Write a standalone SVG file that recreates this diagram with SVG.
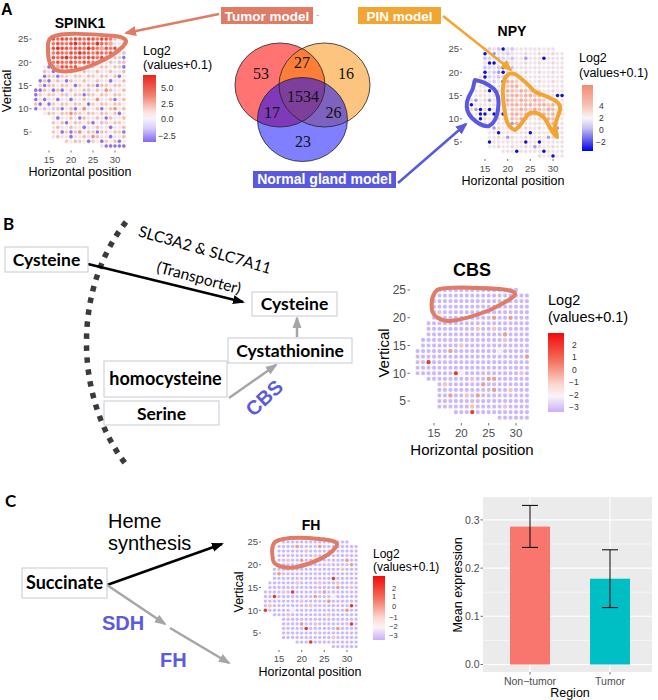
<svg xmlns="http://www.w3.org/2000/svg" width="658" height="700" viewBox="0 0 658 700">
<style>
.t{font-family:"Liberation Sans",Arial,sans-serif;fill:#000}
.tk{font-family:"Liberation Sans",Arial,sans-serif;fill:#4d4d4d}
.lt{font-family:"Liberation Sans",Arial,sans-serif;fill:#333}
.cal{font-family:Lato,"Open Sans",sans-serif;fill:#000}
.box{fill:#fff;stroke:#c5cad3;stroke-width:1}
.tm{stroke:#4d4d4d;stroke-width:0.8}
.ol{fill:none;stroke-width:4;stroke-linejoin:round;stroke-linecap:round}
.venn{font-family:"Liberation Serif","Times New Roman",serif;font-size:16px;text-anchor:middle;fill:#111}
.lbl{font-family:"Liberation Sans",Arial,sans-serif;font-weight:bold;fill:#fff;text-anchor:middle}
.pu{fill:#8c70f4}.pl{fill:#d3c6f8}.dr{fill:#d8352a}.lp{fill:#f2ab9c}.md{fill:#ec8e7c}
.db{fill:#0f0fd0}.mb{fill:#a29cef}
.pe{fill:#f6c6b4}.or{fill:#f09e80}.rd{fill:#e53a27}.wh{fill:#f6f1f8}
</style>
<defs>
<path id="tissue" d="M15.5,25.5H30.5V24.5H32.5V1.5H26.5V2.5H18.5V3.5H15.5V8.5H13.5V9.5H11.5V14.5H12.5V16.5H13.5V19.5H14.5V24.5H15.5Z"/>
<pattern id="pSp" patternUnits="userSpaceOnUse" x="0.5" y="0.5" width="3" height="2">
<circle cx="0.5" cy="0.5" r="0.39" fill="#f3c6ba"/><circle cx="1.5" cy="0.5" r="0.39" fill="#f8e6e2"/><circle cx="2.5" cy="0.5" r="0.39" fill="#eebcae"/>
<circle cx="0.5" cy="1.5" r="0.39" fill="#f6e2de"/><circle cx="1.5" cy="1.5" r="0.39" fill="#f0b8aa"/><circle cx="2.5" cy="1.5" r="0.39" fill="#e7def8"/>
</pattern>
<pattern id="pSpR" patternUnits="userSpaceOnUse" x="0.5" y="0.5" width="3" height="2">
<circle cx="0.5" cy="0.5" r="0.39" fill="#e9503f"/><circle cx="1.5" cy="0.5" r="0.39" fill="#ee6a58"/><circle cx="2.5" cy="0.5" r="0.39" fill="#e5463a"/>
<circle cx="0.5" cy="1.5" r="0.39" fill="#ef7563"/><circle cx="1.5" cy="1.5" r="0.39" fill="#e84d3e"/><circle cx="2.5" cy="1.5" r="0.39" fill="#ec6050"/>
</pattern>
<pattern id="pNp" patternUnits="userSpaceOnUse" x="0.5" y="0.5" width="3" height="2">
<circle cx="0.5" cy="0.5" r="0.38" fill="#efe2f0"/><circle cx="1.5" cy="0.5" r="0.38" fill="#f6dcd6"/><circle cx="2.5" cy="0.5" r="0.38" fill="#e6def6"/>
<circle cx="0.5" cy="1.5" r="0.38" fill="#f5e4e2"/><circle cx="1.5" cy="1.5" r="0.38" fill="#e9e3f5"/><circle cx="2.5" cy="1.5" r="0.38" fill="#f2d2ca"/>
</pattern>
<pattern id="pNpS" patternUnits="userSpaceOnUse" x="0.5" y="0.5" width="3" height="2">
<circle cx="0.5" cy="0.5" r="0.38" fill="#f3a898"/><circle cx="1.5" cy="0.5" r="0.38" fill="#f6c0b3"/><circle cx="2.5" cy="0.5" r="0.38" fill="#f0ae9f"/>
<circle cx="0.5" cy="1.5" r="0.38" fill="#f8cabd"/><circle cx="1.5" cy="1.5" r="0.38" fill="#f2a493"/><circle cx="2.5" cy="1.5" r="0.38" fill="#f5b8aa"/>
</pattern>
<pattern id="pNpL" patternUnits="userSpaceOnUse" x="0.5" y="0.5" width="3" height="2">
<circle cx="0.5" cy="0.5" r="0.38" fill="#d8d0f5"/><circle cx="1.5" cy="0.5" r="0.38" fill="#e6dff7"/><circle cx="2.5" cy="0.5" r="0.38" fill="#cbc2f2"/>
<circle cx="0.5" cy="1.5" r="0.38" fill="#e2dbf6"/><circle cx="1.5" cy="1.5" r="0.38" fill="#d2c9f4"/><circle cx="2.5" cy="1.5" r="0.38" fill="#ebe5f7"/>
</pattern>
<pattern id="pLav" patternUnits="userSpaceOnUse" x="0.5" y="0.5" width="1" height="1">
<circle cx="0.5" cy="0.5" r="0.37" fill="#c9b7f6"/>
</pattern>
<linearGradient id="gSp" x1="0" y1="0" x2="0" y2="1">
<stop offset="0" stop-color="#e8261f"/><stop offset="0.3" stop-color="#f07e6c"/><stop offset="0.55" stop-color="#fbe2dc"/><stop offset="0.65" stop-color="#f7f2fa"/><stop offset="0.8" stop-color="#d6cbfa"/><stop offset="1" stop-color="#8465f3"/>
</linearGradient>
<linearGradient id="gNp" x1="0" y1="0" x2="0" y2="1">
<stop offset="0" stop-color="#f48a72"/><stop offset="0.3" stop-color="#f7c0b2"/><stop offset="0.5" stop-color="#fbf4f8"/><stop offset="0.65" stop-color="#c7c3f2"/><stop offset="0.85" stop-color="#5a56ea"/><stop offset="1" stop-color="#0000f0"/>
</linearGradient>
<linearGradient id="gCb" x1="0" y1="0" x2="0" y2="1">
<stop offset="0" stop-color="#f20a0a"/><stop offset="0.35" stop-color="#f4705e"/><stop offset="0.65" stop-color="#fbd7ce"/><stop offset="0.8" stop-color="#fbf3f6"/><stop offset="1" stop-color="#c6b0fa"/>
</linearGradient>
<marker id="mSal" markerUnits="userSpaceOnUse" markerWidth="12" markerHeight="12" refX="10" refY="6" orient="auto"><path d="M0,1 L12,6 L0,11 Z" fill="#e07b66"/></marker>
<marker id="mOr" markerUnits="userSpaceOnUse" markerWidth="12" markerHeight="12" refX="10" refY="6" orient="auto"><path d="M0,1 L12,6 L0,11 Z" fill="#f2a531"/></marker>
<marker id="mBl" markerUnits="userSpaceOnUse" markerWidth="12" markerHeight="12" refX="10" refY="6" orient="auto"><path d="M0,1 L12,6 L0,11 Z" fill="#5858e0"/></marker>
<marker id="mBk" markerUnits="userSpaceOnUse" markerWidth="12" markerHeight="10" refX="10" refY="5" orient="auto"><path d="M0,0.5 L12,5 L0,9.5 Z" fill="#000"/></marker>
<marker id="mGr" markerUnits="userSpaceOnUse" markerWidth="12" markerHeight="10" refX="10" refY="5" orient="auto"><path d="M0,0.5 L12,5 L0,9.5 Z" fill="#a6a6a6"/></marker>
</defs>
<rect width="658" height="700" fill="#fff"/>

<!-- Panel labels -->
<text class="t" x="1" y="15" font-size="16" font-weight="bold">A</text>
<text class="cal" x="3" y="230" font-size="17" font-weight="bold">B</text>
<text class="cal" x="5" y="507" font-size="17" font-weight="bold">C</text>

<!-- ===== SPINK1 plot ===== -->
<g id="spink1">
<text class="t" x="80" y="28" font-size="14" font-weight="bold" text-anchor="middle">SPINK1</text>
<g transform="translate(-17,155.25) scale(4.4,-4.65)">
<use href="#tissue" fill="url(#pSp)"/>
<path d="M15.5,25.5H29.5V23.5H30.5V21.5H28.5V20.5H25.5V19.5H21.5V18.5H15.5Z" fill="url(#pSpR)"/>
<g>
<circle class="dr" cx="24" cy="23" r="0.39"/><circle class="dr" cx="22" cy="22" r="0.39"/><circle class="dr" cx="19" cy="21" r="0.39"/><circle class="dr" cx="26" cy="24" r="0.39"/><circle class="dr" cx="21" cy="24" r="0.39"/><circle class="dr" cx="17" cy="23" r="0.39"/>
<circle class="lp" cx="28" cy="21" r="0.39"/><circle class="lp" cx="29" cy="24" r="0.39"/><circle class="lp" cx="17" cy="19" r="0.39"/><circle class="lp" cx="27" cy="23" r="0.39"/>
<circle class="md" cx="20" cy="9" r="0.39"/><circle class="md" cx="23" cy="10" r="0.39"/><circle class="md" cx="26" cy="12" r="0.39"/><circle class="md" cx="28" cy="14" r="0.39"/><circle class="md" cx="30" cy="10" r="0.39"/><circle class="md" cx="22" cy="5" r="0.39"/><circle class="md" cx="25" cy="4" r="0.39"/>
<circle class="pl" cx="31" cy="23" r="0.39"/><circle class="pl" cx="32" cy="22" r="0.39"/><circle class="pl" cx="31" cy="20" r="0.39"/><circle class="pl" cx="19" cy="13" r="0.39"/><circle class="pl" cx="24" cy="14" r="0.39"/><circle class="pl" cx="16" cy="10" r="0.39"/><circle class="pl" cx="27" cy="7" r="0.39"/>
<circle class="pu" cx="15" cy="19" r="0.39"/><circle class="pu" cx="16" cy="18" r="0.39"/><circle class="pu" cx="14" cy="17" r="0.39"/><circle class="pu" cx="17" cy="17" r="0.39"/><circle class="pu" cx="13" cy="16" r="0.39"/><circle class="pu" cx="15" cy="16" r="0.39"/><circle class="pu" cx="12" cy="14" r="0.39"/><circle class="pu" cx="14" cy="15" r="0.39"/><circle class="pu" cx="19" cy="16" r="0.39"/><circle class="pu" cx="21" cy="15" r="0.39"/><circle class="pu" cx="13" cy="14" r="0.39"/><circle class="pu" cx="12" cy="13" r="0.39"/><circle class="pu" cx="16" cy="14" r="0.39"/><circle class="pu" cx="18" cy="14" r="0.39"/><circle class="pu" cx="12" cy="12" r="0.39"/><circle class="pu" cx="14" cy="12" r="0.39"/><circle class="pu" cx="13" cy="11" r="0.39"/><circle class="pu" cx="15" cy="11" r="0.39"/><circle class="pu" cx="12" cy="10" r="0.39"/><circle class="pu" cx="17" cy="12" r="0.39"/><circle class="pu" cx="20" cy="12" r="0.39"/><circle class="pu" cx="23" cy="13" r="0.39"/><circle class="pu" cx="26" cy="15" r="0.39"/><circle class="pu" cx="29" cy="16" r="0.39"/><circle class="pu" cx="32" cy="21" r="0.39"/><circle class="pu" cx="32" cy="19" r="0.39"/><circle class="pu" cx="31" cy="17" r="0.39"/><circle class="pu" cx="18" cy="10" r="0.39"/><circle class="pu" cx="21" cy="10" r="0.39"/><circle class="pu" cx="24" cy="11" r="0.39"/><circle class="pu" cx="27" cy="10" r="0.39"/><circle class="pu" cx="30" cy="12" r="0.39"/><circle class="pu" cx="17" cy="8" r="0.39"/><circle class="pu" cx="19" cy="7" r="0.39"/><circle class="pu" cx="22" cy="8" r="0.39"/><circle class="pu" cx="25" cy="7" r="0.39"/><circle class="pu" cx="28" cy="8" r="0.39"/><circle class="pu" cx="31" cy="9" r="0.39"/><circle class="pu" cx="18" cy="5" r="0.39"/><circle class="pu" cx="20" cy="5" r="0.39"/><circle class="pu" cx="23" cy="6" r="0.39"/><circle class="pu" cx="26" cy="5" r="0.39"/><circle class="pu" cx="29" cy="6" r="0.39"/><circle class="pu" cx="32" cy="5" r="0.39"/><circle class="pu" cx="20" cy="4" r="0.39"/><circle class="pu" cx="24" cy="3" r="0.39"/><circle class="pu" cx="27" cy="3" r="0.39"/><circle class="pu" cx="28" cy="2" r="0.39"/><circle class="pu" cx="29" cy="2" r="0.39"/><circle class="pu" cx="30" cy="2" r="0.39"/><circle class="pu" cx="31" cy="2" r="0.39"/><circle class="pu" cx="32" cy="2" r="0.39"/><circle class="pu" cx="29" cy="4" r="0.39"/><circle class="pu" cx="31" cy="3" r="0.39"/>
</g>
</g>
<path class="ol" stroke="#e07b66" stroke-width="4.5" d="M52,37 C62,32 90,34 115,36 C124,37 128,40 125,44 C119,52 105,60 90,66 C78,71 64,73 56,70 C50,67 48,60 48,52 C48,45 47,40 52,37 Z"/>
<g class="tk" font-size="9.5" text-anchor="end">
<text x="28.5" y="42.3">25</text><text x="28.5" y="65.6">20</text><text x="28.5" y="88.9">15</text><text x="28.5" y="112.1">10</text><text x="28.5" y="135.4">5</text>
</g>
<g class="tm"><line x1="29.5" y1="39" x2="31.5" y2="39"/><line x1="29.5" y1="62.25" x2="31.5" y2="62.25"/><line x1="29.5" y1="85.5" x2="31.5" y2="85.5"/><line x1="29.5" y1="108.75" x2="31.5" y2="108.75"/><line x1="29.5" y1="132" x2="31.5" y2="132"/>
<line x1="49" y1="150.5" x2="49" y2="152.5"/><line x1="71" y1="150.5" x2="71" y2="152.5"/><line x1="93" y1="150.5" x2="93" y2="152.5"/><line x1="115" y1="150.5" x2="115" y2="152.5"/></g>
<g class="tk" font-size="9.5" text-anchor="middle">
<text x="49" y="163">15</text><text x="71" y="163">20</text><text x="93" y="163">25</text><text x="115" y="163">30</text>
</g>
<text class="t" x="80" y="176" font-size="12.5" text-anchor="middle">Horizontal position</text>
<text class="t" transform="translate(11,91) rotate(-90)" font-size="13" text-anchor="middle">Vertical</text>
<text class="t" x="143" y="55" font-size="12.5">Log2</text>
<text class="t" x="143" y="69" font-size="12.5">(values+0.1)</text>
<rect x="143" y="75" width="13" height="67" fill="url(#gSp)"/>
<g class="lt" font-size="9">
<text x="161" y="91">5.0</text><text x="161" y="106.5">2.5</text><text x="161" y="122">0.0</text><text x="158" y="138.5">−2.5</text>
</g>
</g>

<!-- ===== Venn ===== -->
<g id="venn">
<ellipse cx="280" cy="85" rx="45" ry="42" fill="#f00" fill-opacity="0.55"/>
<ellipse cx="324.5" cy="85" rx="45.5" ry="42" fill="#f98a00" fill-opacity="0.5"/>
<ellipse cx="302.5" cy="119.5" rx="45" ry="42" fill="#0000ff" fill-opacity="0.5"/>
<g fill="none" stroke="#222" stroke-width="0.8">
<ellipse cx="280" cy="85" rx="45" ry="42"/>
<ellipse cx="324.5" cy="85" rx="45.5" ry="42"/>
<ellipse cx="302.5" cy="119.5" rx="45" ry="42"/>
</g>
<text class="venn" x="261" y="79">53</text>
<text class="venn" x="302" y="68">27</text>
<text class="venn" x="346" y="79">16</text>
<text class="venn" x="303" y="102">1534</text>
<text class="venn" x="272" y="118">17</text>
<text class="venn" x="333.5" y="118">26</text>
<text class="venn" x="303" y="147">23</text>
</g>

<g id="tumor-label">
<rect x="221" y="7" width="92" height="17" fill="#e07b66"/>
<text class="lbl" x="267" y="20.5" font-size="13.5">Tumor model</text>
</g>
<g id="pin-label">
<rect x="358" y="7" width="83" height="17" fill="#f2a531"/>
<text class="lbl" x="399.5" y="20.5" font-size="13.5">PIN model</text>
</g>
<g id="normal-label">
<rect x="253" y="171" width="143" height="17" fill="#5858e0"/>
<text class="lbl" x="324.5" y="184" font-size="14">Normal gland model</text>
</g>

<!-- ===== NPY plot ===== -->
<g id="npy">
<text class="t" x="512" y="36" font-size="14" font-weight="bold" text-anchor="middle">NPY</text>
<g transform="translate(417,165.25) scale(4.533,-4.65)">
<use href="#tissue" fill="url(#pNp)"/>
<path d="M14.5,25.5H21.5V19.5H19.5V17.5H14.5Z" fill="url(#pNpL)"/>
<path d="M19.5,18.5H22.5V16.5H25.5V15.5H28.5V13.5H30.5V7.5H29.5V9.5H28.5V10.5H24.5V9.5H22.5V8.5H20.5V12.5H19.5Z" fill="url(#pNpS)"/>
<g>
<circle class="mb" cx="13" cy="14" r="0.38"/><circle class="mb" cx="14" cy="9" r="0.38"/><circle class="mb" cx="17" cy="8" r="0.38"/><circle class="mb" cx="20" cy="6" r="0.38"/><circle class="mb" cx="21" cy="9" r="0.38"/><circle class="mb" cx="26" cy="4" r="0.38"/><circle class="mb" cx="29" cy="6" r="0.38"/><circle class="mb" cx="31" cy="8" r="0.38"/><circle class="mb" cx="17" cy="24" r="0.38"/><circle class="mb" cx="18" cy="20" r="0.38"/><circle class="mb" cx="16" cy="14" r="0.38"/><circle class="mb" cx="13" cy="12" r="0.38"/><circle class="mb" cx="24" cy="23" r="0.38"/>
<circle class="db" cx="15" cy="24" r="0.38"/><circle class="db" cx="19" cy="25" r="0.38"/><circle class="db" cx="16" cy="22" r="0.38"/><circle class="db" cx="17" cy="22" r="0.38"/><circle class="db" cx="19" cy="21" r="0.38"/><circle class="db" cx="15" cy="20" r="0.38"/><circle class="db" cx="19" cy="20" r="0.38"/><circle class="db" cx="15" cy="19" r="0.38"/><circle class="db" cx="12" cy="13" r="0.38"/><circle class="db" cx="14" cy="12" r="0.38"/><circle class="db" cx="15" cy="11" r="0.38"/><circle class="db" cx="14" cy="11" r="0.38"/><circle class="db" cx="14" cy="10" r="0.38"/><circle class="db" cx="17" cy="11" r="0.38"/><circle class="db" cx="16" cy="12" r="0.38"/><circle class="db" cx="19" cy="11" r="0.38"/><circle class="db" cx="16" cy="5" r="0.38"/><circle class="db" cx="18" cy="7" r="0.38"/><circle class="db" cx="22" cy="3" r="0.38"/><circle class="db" cx="24" cy="5" r="0.38"/><circle class="db" cx="25" cy="7" r="0.38"/><circle class="db" cx="28" cy="23" r="0.38"/><circle class="db" cx="31" cy="15" r="0.38"/><circle class="db" cx="32" cy="15" r="0.38"/><circle class="db" cx="27" cy="5" r="0.38"/><circle class="db" cx="30" cy="2" r="0.38"/><circle class="db" cx="28" cy="3" r="0.38"/><circle class="db" cx="16" cy="16" r="0.38"/><circle class="db" cx="19" cy="18" r="0.38"/>
</g>
</g>
<path class="ol" stroke="#f2a531" d="M505,78 C508,73 513,72 518,76 C523,80 528,84 533,90 C537,94 543,94 550,98 C557,101 561,104 560,110 C558,117 555,122 555,128 C556,132 557,134 557,137 C553,134 550,128 547,122 C544,116 537,111 530,113 C525,116 522,126 515,130 C509,128 506,122 505,113 C504,105 502,97 503,88 C503,84 504,81 505,78 Z"/>
<path class="ol" stroke="#5858e0" d="M475,80 C482,81 488,84 494,89 C499,94 499,103 498,110 C497,117 495,123 489,126 C483,127 477,123 472,118 C468,114 466,108 467,102 C468,96 472,92 473,88 C474,85 474,82 475,80 Z"/>
<g class="tk" font-size="9.5" text-anchor="end">
<text x="459" y="52.3">25</text><text x="459" y="75.5">20</text><text x="459" y="98.8">15</text><text x="459" y="122">10</text><text x="459" y="145.3">5</text>
</g>
<g class="tm"><line x1="460" y1="49" x2="462" y2="49"/><line x1="460" y1="72.25" x2="462" y2="72.25"/><line x1="460" y1="95.5" x2="462" y2="95.5"/><line x1="460" y1="118.75" x2="462" y2="118.75"/><line x1="460" y1="142" x2="462" y2="142"/>
<line x1="485" y1="159" x2="485" y2="161"/><line x1="507.7" y1="159" x2="507.7" y2="161"/><line x1="530.3" y1="159" x2="530.3" y2="161"/><line x1="553" y1="159" x2="553" y2="161"/></g>
<g class="tk" font-size="9.5" text-anchor="middle">
<text x="485" y="172">15</text><text x="507.7" y="172">20</text><text x="530.3" y="172">25</text><text x="553" y="172">30</text>
</g>
<text class="t" x="513" y="185" font-size="12.5" text-anchor="middle">Horizontal position</text>
<text class="t" x="579" y="62" font-size="12.5">Log2</text>
<text class="t" x="579" y="77" font-size="12.5">(values+0.1)</text>
<rect x="582" y="85" width="11" height="66" fill="url(#gNp)"/>
<g class="lt" font-size="8.5">
<text x="599" y="109">4</text><text x="599" y="121">2</text><text x="599" y="133">0</text><text x="596" y="145">−2</text>
</g>
</g>

<!-- ===== Panel A connectors ===== -->
<g id="connectors-a" fill="none" stroke-width="2.5">
<line x1="219" y1="14" x2="126" y2="33" stroke="#e07b66" marker-end="url(#mSal)"/>
<line x1="443" y1="16" x2="511" y2="70" stroke="#f2a531" marker-end="url(#mOr)"/>
<line x1="398" y1="183" x2="466" y2="124" stroke="#5858e0" marker-end="url(#mBl)"/>
<line x1="316.5" y1="15.5" x2="319" y2="15.5" stroke="#aaa" stroke-width="0.8"/>
</g>

<!-- ===== Panel B ===== -->
<path id="membrane" d="M126,222 C72,290 74,400 128,467" fill="none" stroke="#3a3a3a" stroke-width="5.5" stroke-dasharray="5.5 6.5"/>
<g id="connectors-b" fill="none" stroke-width="2.5">
<line x1="88" y1="264" x2="243" y2="302" stroke="#000" marker-end="url(#mBk)"/>
<line x1="297" y1="337" x2="297" y2="318" stroke="#a6a6a6" marker-end="url(#mGr)"/>
<line x1="229" y1="398" x2="276" y2="365" stroke="#a6a6a6" marker-end="url(#mGr)"/>
</g>
<g id="cys-out"><rect class="box" x="5" y="247" width="83" height="25"/><text class="cal" x="46.5" y="266" font-size="17.5" font-weight="bold" text-anchor="middle">Cysteine</text></g>
<g id="cys-in"><rect class="box" x="252" y="292" width="85" height="24"/><text class="cal" x="294.5" y="310" font-size="17.5" font-weight="bold" text-anchor="middle">Cysteine</text></g>
<g id="cystathionine"><rect class="box" x="228" y="338" width="124" height="25"/><text class="cal" x="290" y="357" font-size="17.5" font-weight="bold" text-anchor="middle">Cystathionine</text></g>
<g id="homocysteine"><rect class="box" x="104" y="361" width="123" height="36"/><text class="cal" x="165.5" y="385" font-size="18" font-weight="bold" text-anchor="middle">homocysteine</text></g>
<g id="serine"><rect class="box" x="104" y="401" width="115" height="24"/><text class="cal" x="161.5" y="420" font-size="17.5" font-weight="bold" text-anchor="middle">Serine</text></g>
<text class="cal" transform="translate(203.5,255) rotate(16)" font-size="15.5" text-anchor="middle">SLC3A2 &amp; SLC7A11</text>
<text class="cal" transform="translate(197.5,283) rotate(15)" font-size="15.5" text-anchor="middle">(Transporter)</text>
<text class="t" transform="translate(269,403) rotate(-43)" font-size="20" font-weight="bold" style="fill:#5b5bdb" text-anchor="middle">CBS</text>

<!-- ===== CBS plot ===== -->
<g id="cbs">
<text class="t" x="472" y="276" font-size="18" font-weight="bold" text-anchor="middle">CBS</text>
<g transform="translate(352,428.75) scale(5.467,-5.55)">
<use href="#tissue" fill="url(#pLav)"/>
<g>
<circle class="pe" cx="16" cy="21" r="0.37"/><circle class="pe" cx="23" cy="18" r="0.37"/><circle class="pe" cx="26" cy="18" r="0.37"/><circle class="pe" cx="20" cy="15" r="0.37"/><circle class="pe" cx="22" cy="9" r="0.37"/><circle class="pe" cx="21" cy="6" r="0.37"/><circle class="pe" cx="28" cy="4" r="0.37"/><circle class="pe" cx="22" cy="4" r="0.37"/><circle class="pe" cx="17" cy="8" r="0.37"/><circle class="pe" cx="31" cy="10" r="0.37"/><circle class="pe" cx="29" cy="7" r="0.37"/><circle class="pe" cx="28" cy="16" r="0.37"/>
<circle class="or" cx="26" cy="20" r="0.37"/><circle class="or" cx="29" cy="20" r="0.37"/><circle class="or" cx="28" cy="17" r="0.37"/><circle class="or" cx="18" cy="14" r="0.37"/><circle class="or" cx="26" cy="9" r="0.37"/><circle class="or" cx="25" cy="9" r="0.37"/><circle class="or" cx="24" cy="8" r="0.37"/><circle class="or" cx="26" cy="7" r="0.37"/><circle class="or" cx="18" cy="6" r="0.37"/><circle class="or" cx="23" cy="6" r="0.37"/><circle class="or" cx="32" cy="13" r="0.37"/>
<circle class="rd" cx="14" cy="12" r="0.37"/><circle class="rd" cx="19" cy="10" r="0.37"/><circle class="rd" cx="22" cy="3" r="0.37"/>
<circle class="wh" cx="27" cy="14" r="0.37"/><circle class="wh" cx="20" cy="10" r="0.37"/>
</g>
</g>
<path class="ol" stroke="#e07b66" d="M437,290 C445,286 470,287 500,289 C510,290 518,292 514,296 C510,300 500,305 490,310 C475,316 460,320 450,321 C440,321 433,316 432,310 C431,303 432,295 437,290 Z"/>
<g class="tk" font-size="12" text-anchor="end">
<text x="406" y="294.2">25</text><text x="406" y="322">20</text><text x="406" y="349.7">15</text><text x="406" y="377.5">10</text><text x="406" y="405.2">5</text>
</g>
<g class="tm"><line x1="407.5" y1="290" x2="410" y2="290"/><line x1="407.5" y1="317.75" x2="410" y2="317.75"/><line x1="407.5" y1="345.5" x2="410" y2="345.5"/><line x1="407.5" y1="373.25" x2="410" y2="373.25"/><line x1="407.5" y1="401" x2="410" y2="401"/>
<line x1="434" y1="423" x2="434" y2="425.5"/><line x1="461.3" y1="423" x2="461.3" y2="425.5"/><line x1="488.7" y1="423" x2="488.7" y2="425.5"/><line x1="516" y1="423" x2="516" y2="425.5"/></g>
<g class="tk" font-size="11.5" text-anchor="middle">
<text x="434" y="436.5">15</text><text x="461.3" y="436.5">20</text><text x="488.7" y="436.5">25</text><text x="516" y="436.5">30</text>
</g>
<text class="t" x="472" y="455" font-size="15" text-anchor="middle">Horizontal position</text>
<text class="t" transform="translate(389,353) rotate(-90)" font-size="15" text-anchor="middle">Vertical</text>
<text class="t" x="548" y="304.5" font-size="14.5">Log2</text>
<text class="t" x="548" y="322" font-size="14.5">(values+0.1)</text>
<rect x="548" y="333" width="16" height="79" fill="url(#gCb)"/>
<g class="lt" font-size="8.5">
<text x="572" y="348">2</text><text x="572" y="360">1</text><text x="572" y="373">0</text><text x="569" y="385">−1</text><text x="569" y="398">−2</text><text x="569" y="410">−3</text>
</g>
</g>

<!-- ===== Panel C ===== -->
<g id="connectors-c" fill="none" stroke-width="2.5">
<line x1="107" y1="585" x2="222" y2="544" stroke="#000" marker-end="url(#mBk)"/>
<line x1="107" y1="585" x2="165" y2="624" stroke="#a6a6a6" marker-end="url(#mGr)"/>
<line x1="170" y1="628" x2="229" y2="663" stroke="#a6a6a6" marker-end="url(#mGr)"/>
</g>
<g id="succinate"><rect class="box" x="22" y="568" width="85" height="30"/><text class="cal" x="64.5" y="589" font-size="18" font-weight="bold" text-anchor="middle">Succinate</text></g>
<text class="t" x="108" y="528" font-size="20">Heme</text>
<text class="t" x="108" y="550" font-size="20">synthesis</text>
<text class="t" x="102" y="630" font-size="20" font-weight="bold" style="fill:#5b5bdb">SDH</text>
<text class="t" x="160" y="667" font-size="20" font-weight="bold" style="fill:#5b5bdb">FH</text>

<!-- ===== FH plot ===== -->
<g id="fh">
<text class="t" x="311" y="530" font-size="14" font-weight="bold" text-anchor="middle">FH</text>
<g transform="translate(211,655.75) scale(4.533,-4.55)">
<use href="#tissue" fill="url(#pLav)"/>
<g>
<circle class="rd" cx="14" cy="13" r="0.38"/><circle class="rd" cx="12" cy="10" r="0.38"/><circle class="rd" cx="31" cy="7" r="0.38"/><circle class="rd" cx="31" cy="11" r="0.38"/><circle class="rd" cx="22" cy="3" r="0.38"/><circle class="rd" cx="21" cy="6" r="0.38"/><circle class="rd" cx="27" cy="17" r="0.38"/><circle class="rd" cx="18" cy="14" r="0.38"/>
<circle class="or" cx="15" cy="18" r="0.38"/><circle class="or" cx="19" cy="24" r="0.38"/><circle class="or" cx="24" cy="24" r="0.38"/><circle class="or" cx="20" cy="21" r="0.38"/><circle class="or" cx="30" cy="21" r="0.38"/><circle class="or" cx="31" cy="20" r="0.38"/><circle class="or" cx="25" cy="14" r="0.38"/><circle class="or" cx="28" cy="15" r="0.38"/><circle class="or" cx="23" cy="13" r="0.38"/><circle class="or" cx="26" cy="12" r="0.38"/><circle class="or" cx="20" cy="7" r="0.38"/><circle class="or" cx="28" cy="6" r="0.38"/><circle class="or" cx="30" cy="10" r="0.38"/>
<circle class="pe" cx="21" cy="23" r="0.38"/><circle class="pe" cx="17" cy="21" r="0.38"/><circle class="pe" cx="16" cy="14" r="0.38"/><circle class="pe" cx="19" cy="16" r="0.38"/><circle class="pe" cx="24" cy="16" r="0.38"/><circle class="pe" cx="28" cy="16" r="0.38"/><circle class="pe" cx="20" cy="12" r="0.38"/><circle class="pe" cx="17" cy="9" r="0.38"/><circle class="pe" cx="23" cy="7" r="0.38"/><circle class="pe" cx="26" cy="9" r="0.38"/><circle class="pe" cx="27" cy="4" r="0.38"/><circle class="pe" cx="31" cy="15" r="0.38"/><circle class="pe" cx="13" cy="11" r="0.38"/><circle class="pe" cx="29" cy="19" r="0.38"/><circle class="pe" cx="22" cy="11" r="0.38"/><circle class="pe" cx="23" cy="22" r="0.38"/><circle class="pe" cx="26" cy="20" r="0.38"/>
<circle class="wh" cx="18" cy="10" r="0.38"/><circle class="wh" cx="27" cy="13" r="0.38"/>
</g>
</g>
<path class="ol" stroke="#e07b66" d="M275,542 C282,537 300,537 320,539 C333,540 341,542 335,548 C330,555 315,563 297,567 C285,569 274,566 273,560 C272,553 271,546 275,542 Z"/>
<g class="tk" font-size="9.5" text-anchor="end">
<text x="258" y="545.3">25</text><text x="258" y="568">20</text><text x="258" y="590.8">15</text><text x="258" y="613.5">10</text><text x="258" y="636.3">5</text>
</g>
<g class="tm"><line x1="259" y1="542" x2="261" y2="542"/><line x1="259" y1="564.75" x2="261" y2="564.75"/><line x1="259" y1="587.5" x2="261" y2="587.5"/><line x1="259" y1="610.25" x2="261" y2="610.25"/><line x1="259" y1="633" x2="261" y2="633"/>
<line x1="279" y1="650" x2="279" y2="652"/><line x1="301.7" y1="650" x2="301.7" y2="652"/><line x1="324.3" y1="650" x2="324.3" y2="652"/><line x1="347" y1="650" x2="347" y2="652"/></g>
<g class="tk" font-size="9.5" text-anchor="middle">
<text x="279" y="662">15</text><text x="301.7" y="662">20</text><text x="324.3" y="662">25</text><text x="347" y="662">30</text>
</g>
<text class="t" x="310" y="675.5" font-size="12.5" text-anchor="middle">Horizontal position</text>
<text class="t" transform="translate(243,592) rotate(-90)" font-size="12.5" text-anchor="middle">Vertical</text>
<text class="t" x="373" y="558" font-size="12">Log2</text>
<text class="t" x="373" y="571" font-size="12">(values+0.1)</text>
<rect x="373" y="576" width="12" height="64" fill="url(#gCb)"/>
<g class="lt" font-size="7.5">
<text x="392" y="590.5">2</text><text x="392" y="598.5">1</text><text x="392" y="608.5">0</text><text x="389" y="619.5">−1</text><text x="389" y="628.5">−2</text><text x="389" y="637.5">−3</text>
</g>
</g>

<!-- ===== Bar chart ===== -->
<g id="barchart">
<rect x="483" y="497" width="169" height="175" fill="#ebebeb"/>
<g stroke="#fff" stroke-width="0.5">
<line x1="483" y1="640.4" x2="652" y2="640.4"/><line x1="483" y1="592.2" x2="652" y2="592.2"/><line x1="483" y1="544" x2="652" y2="544"/>
</g>
<g stroke="#fff" stroke-width="1.1">
<line x1="483" y1="664.5" x2="652" y2="664.5"/><line x1="483" y1="616.3" x2="652" y2="616.3"/><line x1="483" y1="568.1" x2="652" y2="568.1"/><line x1="483" y1="519.9" x2="652" y2="519.9"/>
<line x1="530" y1="497" x2="530" y2="672"/><line x1="610" y1="497" x2="610" y2="672"/>
</g>
<rect x="510" y="526.6" width="40" height="137.9" fill="#f8766d"/>
<rect x="590" y="578.7" width="40" height="85.8" fill="#00bfc4"/>
<g stroke="#000" stroke-width="1" fill="none">
<line x1="530" y1="505.4" x2="530" y2="547.4"/><line x1="522" y1="505.4" x2="538" y2="505.4"/><line x1="522" y1="547.4" x2="538" y2="547.4"/>
<line x1="610" y1="549.8" x2="610" y2="607.6"/><line x1="602" y1="549.8" x2="618" y2="549.8"/><line x1="602" y1="607.6" x2="618" y2="607.6"/>
</g>
<g class="tm"><line x1="480.5" y1="519.9" x2="483" y2="519.9"/><line x1="480.5" y1="568.1" x2="483" y2="568.1"/><line x1="480.5" y1="616.3" x2="483" y2="616.3"/><line x1="480.5" y1="664.5" x2="483" y2="664.5"/>
<line x1="530" y1="672" x2="530" y2="674.5"/><line x1="610" y1="672" x2="610" y2="674.5"/></g>
<g class="tk" font-size="10.5" text-anchor="end">
<text x="479.5" y="523.5">0.3</text><text x="479.5" y="571.7">0.2</text><text x="479.5" y="619.9">0.1</text><text x="479.5" y="668.1">0.0</text>
</g>
<g class="tk" font-size="10.5" text-anchor="middle">
<text x="530" y="685">Non−tumor</text><text x="610" y="685">Tumor</text>
</g>
<text class="t" x="570" y="697" font-size="12.5" text-anchor="middle">Region</text>
<text class="t" transform="translate(462,585) rotate(-90)" font-size="12.5" text-anchor="middle">Mean expression</text>
</g>
</svg>
